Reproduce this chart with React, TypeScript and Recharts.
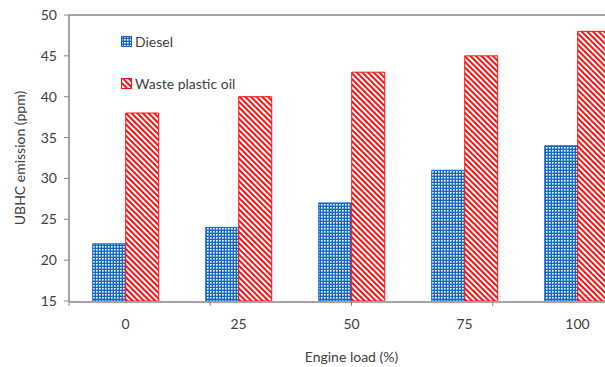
import { BarChart, Bar, XAxis, YAxis, ReferenceLine } from 'recharts'

const loads = ['0', '25', '50', '75', '100']
const diesel = [22, 24, 27, 31, 34]
const wastePlasticOil = [38, 40, 43, 45, 48]
const yTicks = [15, 20, 25, 30, 35, 40, 45, 50]
const boundaryTicks = [0, 1, 2, 3, 4, 5]
const seriesNames = ['Diesel', 'Waste plastic oil']

const data = loads.map((load, i) => ({
    load,
    diesel: diesel[i],
    wpo: wastePlasticOil[i]
}))

const axisGray = '#868686'
const textGray = '#404040'
const blue = '#1668c6'
const red = '#ff1010'
const font = 'Lato, "Open Sans", sans-serif'
const fontSize = 14

function LegendBox() {
    const items = [
        { label: seriesNames[0], fill: 'url(#dieselPattern)', stroke: blue },
        { label: seriesNames[1], fill: 'url(#wpoPattern)', stroke: red }
    ]
    return (
        <div style={{ position: 'absolute', left: 121, top: 34, fontFamily: font, fontSize, color: textGray }}>
            {items.map((it) => (
                <div key={it.label} style={{ display: 'flex', alignItems: 'center', height: 14, marginBottom: 28 }}>
                    <svg width={11} height={11} style={{ marginRight: 3 }}>
                        <rect x={0.5} y={0.5} width={10} height={10} fill={it.fill} stroke={it.stroke} />
                    </svg>
                    <span>{it.label}</span>
                </div>
            ))}
        </div>
    )
}

export default function App() {
    return (
        <div style={{ position: 'absolute', left: 0, top: 0, width: 605, height: 367, overflow: 'hidden', background: '#fff' }}>
            <BarChart
                width={645}
                height={367}
                data={data}
                margin={{ top: 15, right: 11, bottom: 6, left: 0 }}
                barCategoryGap="21%"
                barGap={0}
            >
                <defs>
                    <pattern id="dieselPattern" width={3} height={3} patternUnits="userSpaceOnUse">
                        <rect width={3} height={3} fill={blue} />
                        <rect x={0} y={0} width={1.6} height={1.6} fill="#ffffff" />
                    </pattern>
                    <pattern id="wpoPattern" width={4} height={4} patternUnits="userSpaceOnUse" patternTransform="rotate(-45)">
                        <rect width={4} height={4} fill="#ffffff" />
                        <rect x={0} y={0} width={2} height={4} fill={red} />
                    </pattern>
                </defs>
                <ReferenceLine xAxisId="b" y={50} stroke={axisGray} strokeWidth={1.5} />
                <XAxis
                    xAxisId="a"
                    type="number"
                    domain={[0, 5]}
                    ticks={boundaryTicks}
                    tickFormatter={() => ''}
                    axisLine={false}
                    tickLine={{ stroke: axisGray }}
                    tickSize={5}
                    height={1}
                    orientation="bottom"
                />
                <XAxis
                    xAxisId="b"
                    dataKey="load"
                    height={59}
                    tickLine={false}
                    axisLine={{ stroke: axisGray, strokeWidth: 1.5 }}
                    tick={{ fill: textGray, fontSize, fontFamily: font }}
                    tickMargin={11}
                    label={{
                        value: 'Engine load (%)',
                        position: 'insideBottom',
                        offset: -1,
                        style: { fill: textGray, fontSize, fontFamily: font }
                    }}
                />
                <YAxis
                    width={69}
                    domain={[15, 50]}
                    ticks={yTicks}
                    interval={0}
                    tickSize={5}
                    tickMargin={7}
                    tickLine={{ stroke: axisGray }}
                    axisLine={{ stroke: axisGray, strokeWidth: 1.5 }}
                    tick={{ fill: textGray, fontSize, fontFamily: font }}
                    allowDataOverflow
                    label={{
                        value: 'UBHC emission (ppm)',
                        angle: -90,
                        position: 'insideLeft',
                        offset: 20,
                        style: { textAnchor: 'middle', fill: textGray, fontSize, fontFamily: font }
                    }}
                />
                <Bar xAxisId="b" dataKey="diesel" name={seriesNames[0]} fill="url(#dieselPattern)" stroke={blue} strokeWidth={1} isAnimationActive={false} />
                <Bar xAxisId="b" dataKey="wpo" name={seriesNames[1]} fill="url(#wpoPattern)" stroke={red} strokeWidth={1} isAnimationActive={false} />
            </BarChart>
            <LegendBox />
        </div>
    )
}
